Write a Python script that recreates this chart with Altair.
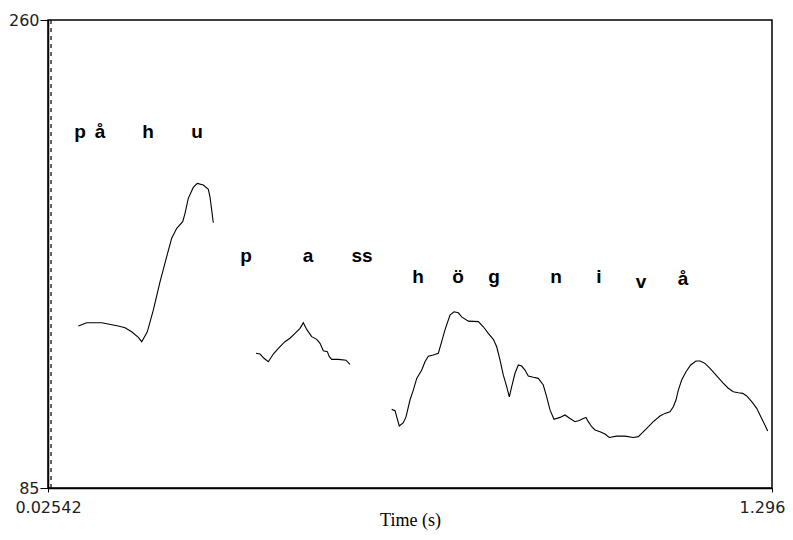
import altair as alt
import pandas as pd

# Pitch contour segments (time in s, F0 in Hz)
seg1_t = [0.0786, 0.0933, 0.1197, 0.1488, 0.1606, 0.1723, 0.1839, 0.1899, 0.1997, 0.2102,
          0.2220, 0.2337, 0.2425, 0.2513, 0.2618, 0.2659, 0.2716, 0.2804, 0.2874, 0.2980,
          0.3068, 0.3097, 0.3127, 0.3155]
seg1_f = [145.6, 146.8, 146.8, 145.6, 144.9, 143.4, 141.3, 139.7, 143.4, 151.5,
          162.1, 171.5, 178.4, 182.1, 184.6, 187.7, 193.3, 197.4, 198.9, 198.3,
          196.7, 193.9, 188.9, 184.2]

seg2_t = [0.3905, 0.3975, 0.4045, 0.4121, 0.4208, 0.4296, 0.4413, 0.4501, 0.4589, 0.4677,
          0.4735, 0.4794, 0.4882, 0.4970, 0.5028, 0.5086, 0.5156, 0.5191, 0.5233, 0.5349,
          0.5484, 0.5554]
seg2_f = [135.4, 135.1, 133.5, 132.2, 135.1, 137.2, 139.7, 141.0, 142.8, 144.7,
          146.8, 144.3, 141.6, 140.6, 139.1, 136.3, 136.0, 134.1, 133.1, 133.1,
          132.8, 131.2]

seg3_t = [0.6286, 0.6344, 0.6374, 0.6419, 0.6490, 0.6537, 0.6607, 0.6665, 0.6725, 0.6813,
          0.6870, 0.6928, 0.7016, 0.7104, 0.7163, 0.7221, 0.7309, 0.7379, 0.7455, 0.7514,
          0.7630, 0.7806, 0.7894, 0.7981, 0.8069, 0.8129, 0.8187, 0.8245, 0.8304, 0.8350,
          0.8392, 0.8450, 0.8508, 0.8567, 0.8625, 0.8683, 0.8771, 0.8859, 0.8946, 0.9006,
          0.9064, 0.9134, 0.9240, 0.9327, 0.9415, 0.9503, 0.9578, 0.9648, 0.9696, 0.9736,
          0.9796, 0.9854, 0.9942, 1.0029, 1.0105, 1.0235, 1.0380, 1.0526, 1.0614, 1.0673,
          1.0761, 1.0877, 1.0995, 1.1082, 1.1170, 1.1228, 1.1275, 1.1316, 1.1375, 1.1451,
          1.1533, 1.1626, 1.1697, 1.1784, 1.1872, 1.1990, 1.2095, 1.2193, 1.2281, 1.2369,
          1.2446, 1.2516, 1.2604, 1.2692, 1.2779, 1.2837, 1.2885]
seg3_f = [114.4, 113.9, 111.6, 108.2, 109.4, 111.6, 117.9, 121.6, 126.0, 129.1,
          132.2, 134.3, 134.7, 135.4, 139.7, 144.1, 149.7, 150.9, 150.5, 149.0,
          147.4, 147.2, 145.3, 142.8, 140.6, 137.8, 132.8, 127.2, 122.9, 119.1,
          122.9, 127.9, 131.0, 130.6, 129.1, 126.9, 126.4, 126.0, 123.5, 119.1,
          114.2, 110.7, 111.4, 112.3, 111.0, 109.8, 110.2, 111.0, 111.4, 109.8,
          107.9, 106.7, 106.0, 105.2, 103.9, 104.4, 104.4, 103.9, 104.2, 105.4,
          107.3, 109.8, 111.9, 112.9, 113.5, 115.4, 117.9, 121.6, 125.4, 128.5,
          131.0, 132.5, 132.5, 131.6, 129.7, 126.9, 124.4, 122.3, 121.0, 120.6,
          120.4, 119.4, 117.3, 114.8, 111.0, 108.5, 106.3]

# Text annotations
label_text = ["p", "å", "h", "u", "p", "a", "ss", "h", "ö", "g", "n", "i", "v", "å"]
label_t = [0.0816, 0.1167, 0.2009, 0.2869, 0.3729, 0.4817, 0.5765, 0.6748, 0.7450, 0.8082,
           0.9170, 0.9924, 1.0661, 1.1398]
label_f = [218.1, 218.1, 218.1, 218.1, 171.7, 171.7, 171.7, 163.9, 163.9, 163.9,
           163.9, 163.9, 162.0, 163.1]

x_min, x_max = 0.02542, 1.296
y_min, y_max = 85, 260
x_tick_labels = ["0.02542", "1.296"]
cursor_t = [0.0307]

rows = []
for name, ts, fs in [("s1", seg1_t, seg1_f), ("s2", seg2_t, seg2_f), ("s3", seg3_t, seg3_f)]:
    for i, (t, f) in enumerate(zip(ts, fs)):
        rows.append({"seg": name, "i": i, "t": t, "f": f})
df = pd.DataFrame(rows)
labels = pd.DataFrame({"text": label_text, "t": label_t, "f": label_f})
cursor = pd.DataFrame({"t": cursor_t})

xscale = alt.Scale(domain=[x_min, x_max], nice=False, zero=False)
yscale = alt.Scale(domain=[y_min, y_max], nice=False, zero=False)

xaxis = alt.Axis(values=[x_min, x_max],
                 labelExpr=f"datum.value < 1 ? '{x_tick_labels[0]}' : '{x_tick_labels[1]}'",
                 title="Time (s)",
                 grid=False, domainColor="black", domainWidth=1.5, tickColor="black",
                 tickSize=4, labelFont="DejaVu Sans", labelFontSize=16, labelColor="#222",
                 labelPadding=7, labelBaseline="top", labelOverlap=False, labelFlush=False,
                 labelOffset={"condition": {"test": "datum.value > 1", "value": -10}, "value": 0},
                 titleFont="Liberation Serif", titleFontSize=18, titleFontWeight="normal",
                 titleColor="black", titleY=32, titleBaseline="middle")
yaxis = alt.Axis(values=[y_min, y_max], title=None, grid=False, domainColor="black",
                 domainWidth=1.5, tickColor="black", tickSize=8, labelFont="DejaVu Sans",
                 labelFontSize=16, labelColor="#222", labelPadding=1, labelOverlap=False,
                 labelFlush=False, labelBaseline="middle")

line = alt.Chart(df).mark_line(color="black", strokeWidth=1.1).encode(
    x=alt.X("t:Q", scale=xscale, axis=xaxis),
    y=alt.Y("f:Q", scale=yscale, axis=yaxis),
    detail="seg:N",
    order="i:Q",
)

rule = alt.Chart(cursor).mark_rule(color="black", strokeWidth=1.2, strokeDash=[4, 4]).encode(
    x=alt.X("t:Q", scale=xscale)
)

text = alt.Chart(labels).mark_text(font="Liberation Sans", fontSize=19, fontWeight="bold",
                                   color="black", align="center", baseline="middle").encode(
    x=alt.X("t:Q", scale=xscale),
    y=alt.Y("f:Q", scale=yscale),
    text="text:N",
)

chart = alt.layer(rule, line, text).properties(
    width=724, height=468,
    autosize=alt.AutoSizeParams(type="none"),
    padding={"left": 40, "top": 12, "right": 13, "bottom": 44},
    background="white",
).configure_view(stroke="black", strokeWidth=1.5)

chart.save("out.html", embed_options={"renderer": "svg", "actions": False})
